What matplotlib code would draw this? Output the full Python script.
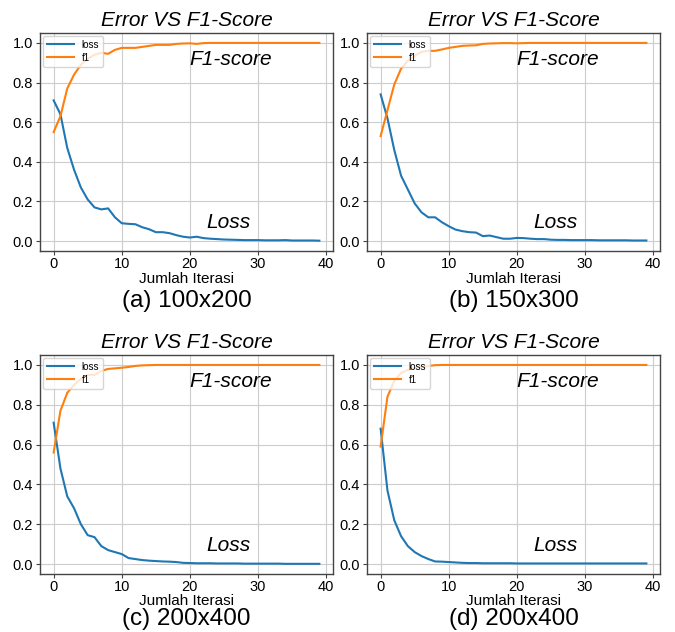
import numpy as np
import matplotlib.pyplot as plt

plt.rcParams['font.family'] = ['Liberation Sans', 'DejaVu Sans']

iterasi = np.arange(40)

# (a) 100x200
loss_a = [0.71, 0.64, 0.47, 0.36, 0.27, 0.21, 0.17, 0.16, 0.165, 0.12,
          0.09, 0.087, 0.085, 0.07, 0.06, 0.045, 0.045, 0.04, 0.03, 0.022,
          0.018, 0.022, 0.015, 0.012, 0.01, 0.008, 0.007, 0.006, 0.005, 0.005,
          0.005, 0.004, 0.004, 0.004, 0.005, 0.003, 0.003, 0.003, 0.003, 0.002]
f1_a = [0.55, 0.63, 0.77, 0.84, 0.89, 0.92, 0.94, 0.95, 0.945, 0.965,
        0.975, 0.975, 0.975, 0.98, 0.985, 0.99, 0.99, 0.99, 0.995, 0.997,
        0.998, 0.995, 0.999, 1.0, 1.0, 1.0, 1.0, 1.0, 1.0, 1.0,
        1.0, 1.0, 1.0, 1.0, 1.0, 1.0, 1.0, 1.0, 1.0, 1.0]

# (b) 150x300
loss_b = [0.74, 0.62, 0.46, 0.33, 0.26, 0.19, 0.145, 0.12, 0.12, 0.095,
          0.075, 0.058, 0.05, 0.045, 0.043, 0.025, 0.028, 0.02, 0.012, 0.012,
          0.016, 0.015, 0.012, 0.01, 0.01, 0.007, 0.006, 0.006, 0.005, 0.005,
          0.005, 0.005, 0.004, 0.004, 0.004, 0.004, 0.004, 0.003, 0.003, 0.003]
f1_b = [0.53, 0.66, 0.79, 0.87, 0.91, 0.935, 0.955, 0.96, 0.96, 0.967,
        0.975, 0.98, 0.985, 0.987, 0.988, 0.995, 0.997, 0.998, 0.999, 0.999,
        0.998, 0.999, 1.0, 1.0, 1.0, 1.0, 1.0, 1.0, 1.0, 1.0,
        1.0, 1.0, 1.0, 1.0, 1.0, 1.0, 1.0, 1.0, 1.0, 1.0]

# (c) 200x400
loss_c = [0.71, 0.48, 0.34, 0.28, 0.2, 0.145, 0.135, 0.09, 0.07, 0.06,
          0.05, 0.03, 0.025, 0.02, 0.017, 0.015, 0.013, 0.012, 0.01, 0.006,
          0.005, 0.004, 0.004, 0.004, 0.003, 0.003, 0.003, 0.003, 0.002, 0.002,
          0.002, 0.002, 0.002, 0.002, 0.001, 0.001, 0.001, 0.001, 0.001, 0.001]
f1_c = [0.56, 0.77, 0.86, 0.9, 0.93, 0.95, 0.95, 0.97, 0.98, 0.983,
        0.986, 0.99, 0.995, 0.998, 0.999, 1.0, 1.0, 1.0, 1.0, 1.0,
        1.0, 1.0, 1.0, 1.0, 1.0, 1.0, 1.0, 1.0, 1.0, 1.0,
        1.0, 1.0, 1.0, 1.0, 1.0, 1.0, 1.0, 1.0, 1.0, 1.0]

# (d) 200x400
loss_d = [0.68, 0.37, 0.22, 0.14, 0.09, 0.06, 0.04, 0.025, 0.013, 0.012,
          0.01, 0.008, 0.006, 0.005, 0.005, 0.004, 0.004, 0.004, 0.004, 0.004,
          0.003, 0.003, 0.003, 0.003, 0.003, 0.003, 0.003, 0.003, 0.003, 0.003,
          0.003, 0.003, 0.003, 0.003, 0.003, 0.003, 0.003, 0.003, 0.003, 0.003]
f1_d = [0.59, 0.84, 0.92, 0.96, 0.975, 0.985, 0.99, 0.995, 0.999, 1.0,
        1.0, 1.0, 1.0, 1.0, 1.0, 1.0, 1.0, 1.0, 1.0, 1.0,
        1.0, 1.0, 1.0, 1.0, 1.0, 1.0, 1.0, 1.0, 1.0, 1.0,
        1.0, 1.0, 1.0, 1.0, 1.0, 1.0, 1.0, 1.0, 1.0, 1.0]

captions = ['(a) 100x200', '(b) 150x300', '(c) 200x400', '(d) 200x400']
losses = [loss_a, loss_b, loss_c, loss_d]
f1s = [f1_a, f1_b, f1_c, f1_d]

W, H = 675, 632
# posizioni in pixel: (left, top, right, bottom, y xlabel, y didascalia)
boxes = [(40, 33, 333, 251, 279, 301),
         (367, 33, 660, 251, 279, 301),
         (40, 355, 333, 574, 601, 619),
         (367, 355, 660, 574, 601, 619)]

fig = plt.figure(figsize=(W / 100, H / 100), dpi=100)

for (l, t, r, b, yx, yc), cap, loss, f1 in zip(boxes, captions, losses, f1s):
    ax = fig.add_axes([l / W, 1 - b / H, (r - l) / W, (b - t) / H])
    ax.plot(iterasi, loss, color='#1f77b4', lw=1.5, label='loss')
    ax.plot(iterasi, f1, color='#ff7f0e', lw=1.5, label='f1')
    ax.set_xlim(-2, 41)
    ax.set_ylim(-0.05, 1.05)
    ax.set_xticks([0, 10, 20, 30, 40])
    ax.set_yticks([0.0, 0.2, 0.4, 0.6, 0.8, 1.0])
    ax.grid(color='#cccccc', lw=0.8)
    ax.set_axisbelow(True)
    for s in ax.spines.values():
        s.set_color('#444444')
        s.set_linewidth(1.0)
    ax.tick_params(labelsize=10.5, length=3, width=0.8, color='#444444', pad=2)
    ax.tick_params(axis='x', pad=1)
    ax.set_title('Error VS F1-Score', fontsize=15, style='italic', pad=5)
    ax.text(26, 0.915, 'F1-score', fontsize=15, style='italic', ha='center', va='center')
    ax.text(25.6, 0.095, 'Loss', fontsize=15, style='italic', ha='center', va='center')
    ax.legend(loc='upper left', fontsize=7, handlelength=2.8, borderaxespad=0.3,
              framealpha=0.8, labelspacing=0.3)
    cx = (l + r) / 2 / W
    fig.text(cx, 1 - yx / H, 'Jumlah Iterasi', fontsize=11, ha='center', va='center')
    fig.text(cx, 1 - yc / H, cap, fontsize=17.5, ha='center', va='center')

plt.savefig('out.png', dpi=100)
